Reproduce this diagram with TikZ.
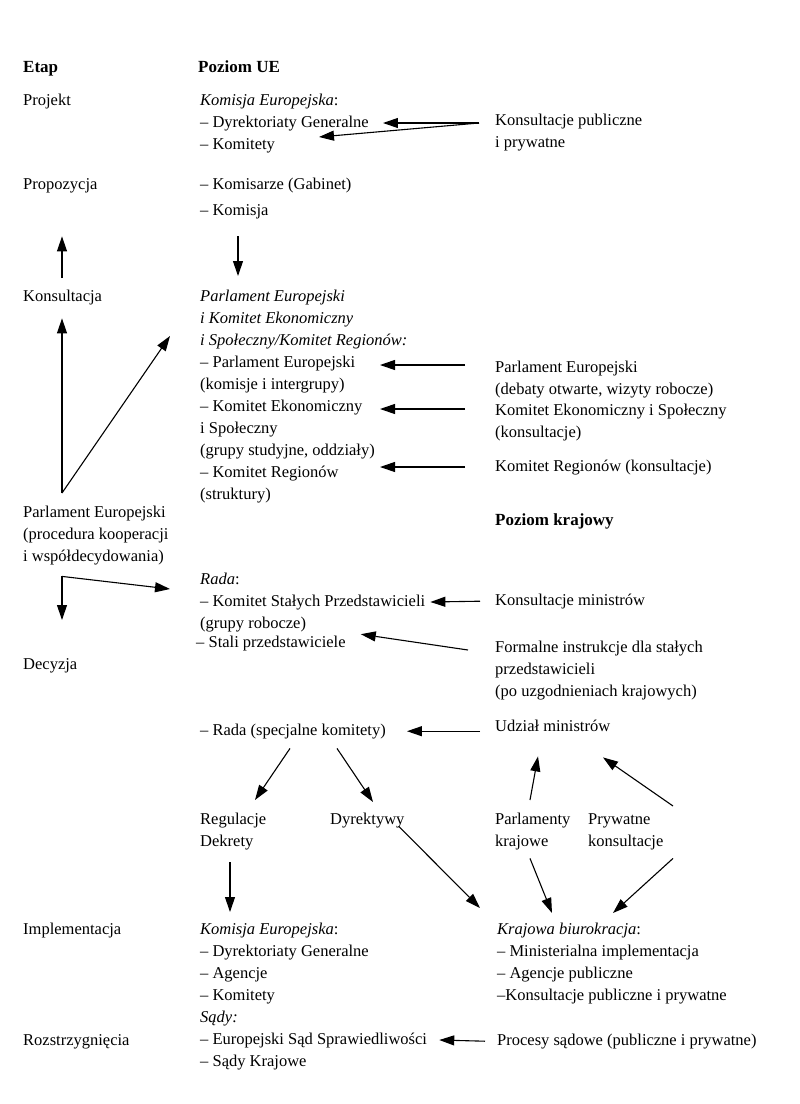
\documentclass[tikz,border=0pt]{standalone}
\usepackage{fontspec}
\setmainfont{Liberation Serif}
\usetikzlibrary{arrows.meta}

\tikzstyle{every node}=[font=\fontsize{16.5}{22}\selectfont, inner sep=0pt, anchor=north west, align=left, execute at begin node=\strut]
\tikzstyle{hd} = [font=\fontsize{17}{22}\selectfont\bfseries]
\tikzstyle{arr} = [-{Triangle[length=15pt,width=10pt]}, line width=1.1pt]

\begin{document}
\begin{tikzpicture}[x=1pt, y=-1pt]
  \useasboundingbox (0,0) rectangle (800,1104);
  % stages
  \node[hd] (etap) at (23,57) {Etap};
  \node (projekt) at (23,90) {Projekt};
  \node (propozycja) at (23,174) {Propozycja};
  \node (konsultacja) at (23,286) {Konsultacja};
  \node (parl) at (23,502) {\strut Parlament Europejski\\(procedura kooperacji\\i współdecydowania)};
  \node (decyzja) at (23,654) {Decyzja};
  \node (implementacja) at (23,919) {Implementacja};
  \node (rozstrz) at (23,1030) {Rozstrzygnięcia};
  % EU level
  \node[hd] (poziomue) at (198,57) {Poziom UE};
  \node (ke) at (200,90) {\strut\textit{Komisja Europejska}:\\– Dyrektoriaty Generalne\\– Komitety};
  \node (komisarze) at (200,174) {– Komisarze (Gabinet)};
  \node (komisja) at (200,200) {– Komisja};
  \node (pe) at (200,286) {\strut\textit{Parlament Europejski}\\\textit{i Komitet Ekonomiczny}\\\textit{i Społeczny/Komitet Regionów:}\\– Parlament Europejski\\(komisje i intergrupy)\\– Komitet Ekonomiczny\\i Społeczny\\(grupy studyjne, oddziały)\\– Komitet Regionów\\(struktury)};
  \node (rada) at (200,569) {\strut\textit{Rada}:\\– Komitet Stałych Przedstawicieli\\(grupy robocze)};
  \node (stali) at (196,632) {– Stali przedstawiciele};
  \node (rsk) at (200,720) {– Rada (specjalne komitety)};
  \node (reg) at (200,809) {\strut Regulacje\\Dekrety};
  \node (dyr) at (330,809) {Dyrektywy};
  \node (ke2) at (200,919) {\strut\textit{Komisja Europejska}:\\– Dyrektoriaty Generalne\\– Agencje\\– Komitety\\\textit{Sądy:}\\– Europejski Sąd Sprawiedliwości\\– Sądy Krajowe};
  % national level
  \node (kpp) at (495,110) {\strut Konsultacje publiczne\\i prywatne};
  \node (pe2) at (495,357) {\strut Parlament Europejski\\(debaty otwarte, wizyty robocze)};
  \node (kes) at (495,400) {\strut Komitet Ekonomiczny i Społeczny\\(konsultacje)};
  \node (kr) at (495,456) {Komitet Regionów (konsultacje)};
  \node[hd] (pk) at (495,510) {Poziom krajowy};
  \node (km) at (495,590) {Konsultacje ministrów};
  \node (fi) at (495,637) {\strut Formalne instrukcje dla stałych\\przedstawicieli\\(po uzgodnieniach krajowych)};
  \node (um) at (495,716) {Udział ministrów};
  \node (park) at (495,809) {\strut Parlamenty\\krajowe};
  \node (pryw) at (588,809) {\strut Prywatne\\konsultacje};
  \node (kb) at (497,919) {\strut\textit{Krajowa biurokracja}:\\– Ministerialna implementacja\\– Agencje publiczne\\–Konsultacje publiczne i prywatne};
  \node (ps) at (497,1030) {Procesy sądowe (publiczne i prywatne)};
  % arrows
  \coordinate (knee) at ([shift={(39,8)}]parl.south west);
  \draw[arr] ([shift={(-16,13)}]kpp.north west) -- ([shift={(14,33)}]ke.north east);
  \draw[arr] ([shift={(-16,13)}]kpp.north west) -- ([shift={(-50,47)}]ke.north east);
  \draw[arr] ([shift={(39,-8)}]konsultacja.north west) -- ([shift={(39,40)}]propozycja.south west);
  \draw[arr] ([shift={(38,14)}]komisja.south west) -- ([shift={(38,-10)}]pe.north west);
  \draw[arr] ([shift={(39,-9)}]parl.north west) -- ([shift={(39,10)}]konsultacja.south west);
  \draw[arr] ([shift={(39,-9)}]parl.north west) -- ([shift={(-30,50)}]pe.north west);
  \draw[arr] ([shift={(-30,8)}]pe2.north west) -- ([shift={(180,79)}]pe.north west);
  \draw[arr] ([shift={(-30,9)}]kes.north west) -- ([shift={(180,123)}]pe.north west);
  \draw[arr] ([shift={(-30,11)}]kr.north west) -- ([shift={(180,181)}]pe.north west);
  \draw[arr] (knee) -- ([shift={(39,-34)}]decyzja.north west);
  \draw[arr] (knee) -- ([shift={(-30,20)}]rada.north west);
  \draw[arr] ([xshift=-15pt]km.west) -- ([shift={(5,33)}]rada.north east);
  \draw[arr] ([shift={(-27,13)}]fi.north west) -- ([shift={(15,-9)}]stali.east);
  \draw[arr] ([shift={(-15,4)}]um.west) -- ([xshift=21pt]rsk.east);
  \draw[arr] ([shift={(90,6)}]rsk.south west) -- ([shift={(55,-9)}]reg.north west);
  \draw[arr] ([shift={(137,6)}]rsk.south west) -- ([shift={(43,-7)}]dyr.north west);
  \draw[arr] ([shift={(35,-9)}]park.north west) -- ([shift={(43,18)}]um.south west);
  \draw[arr] ([shift={(85,-3)}]pryw.north west) -- ([shift={(108,19)}]um.south west);
  \draw[arr] ([shift={(30,9)}]reg.south west) -- ([shift={(30,-7)}]ke2.north west);
  \draw[arr] ([shift={(-6,6)}]dyr.east) -- ([shift={(-17,-11)}]kb.north west);
  \draw[arr] ([shift={(35,5)}]park.south west) -- ([shift={(55,-6)}]kb.north west);
  \draw[arr] ([shift={(85,5)}]pryw.south west) -- ([shift={(116,-6)}]kb.north west);
  \draw[arr] ([xshift=-12pt]ps.west) -- ([shift={(12,121)}]ke2.north east);
\end{tikzpicture}
\end{document}
